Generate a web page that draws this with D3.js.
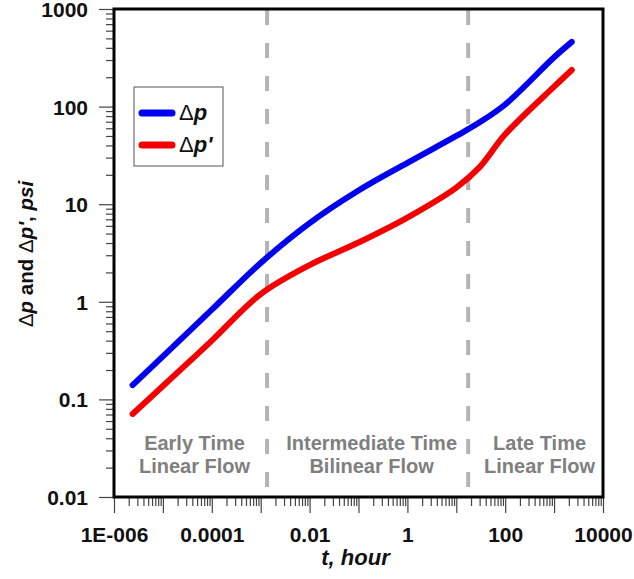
<!DOCTYPE html>
<html>
<head>
<meta charset="utf-8">
<script src="https://cdn.jsdelivr.net/npm/d3@7"></script>
<style>
  body { margin: 0; background: #fff; }
  svg { display: block; font-family: "Liberation Sans", Arial, sans-serif; }
</style>
</head>
<body>
<svg id="chart"></svg>
<script>
// time values (hours)
const tHours = [2.4e-6, 1e-5, 1e-4, 1e-3, 1e-2, 0.1, 1, 10, 30, 100, 1000, 2300];
// pressure change, psi
const dp = [0.14, 0.276, 0.83, 2.5, 6.4, 13.8, 26.5, 50, 69, 105, 320, 460];
// pressure derivative, psi
const dpDeriv = [0.071, 0.137, 0.40, 1.2, 2.38, 4.05, 7.3, 14.8, 24, 52, 160, 237];

// flow regime boundaries (hours)
const boundaries = [1.35e-3, 17.5];
const regimeLabels = [
    ['Early Time', 'Linear Flow'],
    ['Intermediate Time', 'Bilinear Flow'],
    ['Late Time', 'Linear Flow']
];

// axis ticks
const xDecades = [1e-6, 1e-5, 1e-4, 1e-3, 1e-2, 1e-1, 1, 10, 100, 1000, 10000];
const xTickLabels = {1e-6: '1E-006', 1e-4: '0.0001', 1e-2: '0.01', 1: '1', 100: '100', 10000: '10000'};
const yDecades = [0.01, 0.1, 1, 10, 100, 1000];
const yTickLabels = ['0.01', '0.1', '1', '10', '100', '1000'];

const width = 634, height = 579;
const margin = {top: 9, right: 31, bottom: 82, left: 114};
const plotW = width - margin.left - margin.right;
const plotH = height - margin.top - margin.bottom;

const svg = d3.select('#chart')
    .attr('width', width)
    .attr('height', height);

const xScale = d3.scaleLog().domain([1e-6, 1e4]).range([margin.left, margin.left + plotW]);
const yScale = d3.scaleLog().domain([0.01, 1000]).range([margin.top + plotH, margin.top]);

// minor ticks 2..9 in each decade
function minorTicks(decades) {
    let out = [];
    decades.slice(0, -1).forEach(d => {
        for (let k = 2; k <= 9; k++) out.push(d * k);
    });
    return out;
}

// x axis
let xMinor = svg.append('g')
    .attr('transform', `translate(0,${margin.top + plotH})`)
    .call(d3.axisBottom(xScale).tickValues(minorTicks(xDecades)).tickSize(9).tickFormat(''));
let xMajor = svg.append('g')
    .attr('transform', `translate(0,${margin.top + plotH})`)
    .call(d3.axisBottom(xScale).tickValues(xDecades).tickSize(16)
        .tickFormat(d => xTickLabels[d] || ''));
[xMinor, xMajor].forEach(g => {
    g.select('.domain').remove();
    g.selectAll('line').attr('stroke', '#444').attr('stroke-width', 1.2);
});
xMajor.selectAll('text')
    .attr('y', 30)
    .attr('dy', '0.71em')
    .attr('fill', '#111')
    .style('font-size', '21px')
    .style('font-weight', 'bold');

// y axis
let yMinor = svg.append('g')
    .attr('transform', `translate(${margin.left},0)`)
    .call(d3.axisLeft(yScale).tickValues(minorTicks(yDecades)).tickSize(8).tickFormat(''));
let yMajor = svg.append('g')
    .attr('transform', `translate(${margin.left},0)`)
    .call(d3.axisLeft(yScale).tickValues(yDecades).tickSize(15)
        .tickFormat((d, i) => yTickLabels[i]));
[yMinor, yMajor].forEach(g => {
    g.select('.domain').remove();
    g.selectAll('line').attr('stroke', '#444').attr('stroke-width', 1.2);
});
yMajor.selectAll('text')
    .attr('x', -26)
    .attr('dy', '0.36em')
    .attr('fill', '#111')
    .style('font-size', '21px')
    .style('font-weight', 'bold');

// dashed regime boundaries
svg.append('g')
    .selectAll('line')
    .data(boundaries)
    .enter()
    .append('line')
    .attr('x1', d => xScale(d))
    .attr('x2', d => xScale(d))
    .attr('y1', margin.top + 1)
    .attr('y2', margin.top + plotH)
    .attr('stroke', '#b4b4b4')
    .attr('stroke-width', 4)
    .attr('stroke-dasharray', '15,18');

// regime labels
let edges = [xScale.domain()[0]].concat(boundaries, [xScale.domain()[1]]);
let labels = svg.append('g')
    .attr('fill', '#7f7f7f')
    .style('font-size', '20px')
    .style('font-weight', 'bold')
    .attr('text-anchor', 'middle');
regimeLabels.forEach((lines, i) => {
    let cx = (xScale(edges[i]) + xScale(edges[i + 1])) / 2 + 4;
    lines.forEach((txt, j) => {
        labels.append('text')
            .attr('x', cx)
            .attr('y', yScale(0.03) + j * 23)
            .text(txt);
    });
});

// curves
let series = [
    {values: dp, color: '#0000f0'},
    {values: dpDeriv, color: '#f50000'}
];
let line = d3.line()
    .x(d => xScale(d[0]))
    .y(d => yScale(d[1]))
    .curve(d3.curveCatmullRom.alpha(0.5));
svg.append('g')
    .selectAll('path')
    .data(series)
    .enter()
    .append('path')
    .attr('d', s => line(tHours.map((t, i) => [t, s.values[i]])))
    .attr('fill', 'none')
    .attr('stroke', s => s.color)
    .attr('stroke-width', 6)
    .attr('stroke-linecap', 'round')
    .attr('stroke-linejoin', 'round');

// frame
svg.append('rect')
    .attr('x', margin.left)
    .attr('y', margin.top)
    .attr('width', plotW)
    .attr('height', plotH)
    .attr('fill', 'none')
    .attr('stroke', '#000')
    .attr('stroke-width', 3);

// legend
let legend = svg.append('g').attr('transform', 'translate(134,87)');
legend.append('rect')
    .attr('width', 89)
    .attr('height', 79)
    .attr('fill', '#fff')
    .attr('stroke', '#555')
    .attr('stroke-width', 1);
let legendItems = [
    {color: '#0000f0', prime: false},
    {color: '#f50000', prime: true}
];
legendItems.forEach((d, i) => {
    let y = 26 + i * 32;
    legend.append('line')
        .attr('x1', 8).attr('x2', 38)
        .attr('y1', y).attr('y2', y)
        .attr('stroke', d.color)
        .attr('stroke-width', 7)
        .attr('stroke-linecap', 'round');
    let t = legend.append('text')
        .attr('x', 45)
        .attr('y', y + 7)
        .attr('fill', '#111')
        .style('font-size', '22px');
    t.append('tspan').text('\u0394');
    t.append('tspan').style('font-weight', 'bold').style('font-style', 'italic').text('p' + (d.prime ? "'" : ''));
});

// axis titles
svg.append('text')
    .attr('x', margin.left + plotW / 2 - 3)
    .attr('y', 565)
    .attr('text-anchor', 'middle')
    .attr('fill', '#111')
    .style('font-size', '22px')
    .style('font-weight', 'bold')
    .style('font-style', 'italic')
    .text('t, hour');

let yTitle = svg.append('text')
    .attr('transform', `translate(33,${margin.top + plotH / 2 + 1}) rotate(-90)`)
    .attr('text-anchor', 'middle')
    .attr('fill', '#111')
    .style('font-size', '20.5px')
    .style('font-weight', 'bold');
yTitle.append('tspan').style('font-weight', 'normal').text('\u0394');
yTitle.append('tspan').style('font-style', 'italic').text('p');
yTitle.append('tspan').text(' and ');
yTitle.append('tspan').style('font-weight', 'normal').text('\u0394');
yTitle.append('tspan').style('font-style', 'italic').text("p'");
yTitle.append('tspan').text(', ');
yTitle.append('tspan').style('font-style', 'italic').text('psi');
</script>
</body>
</html>
